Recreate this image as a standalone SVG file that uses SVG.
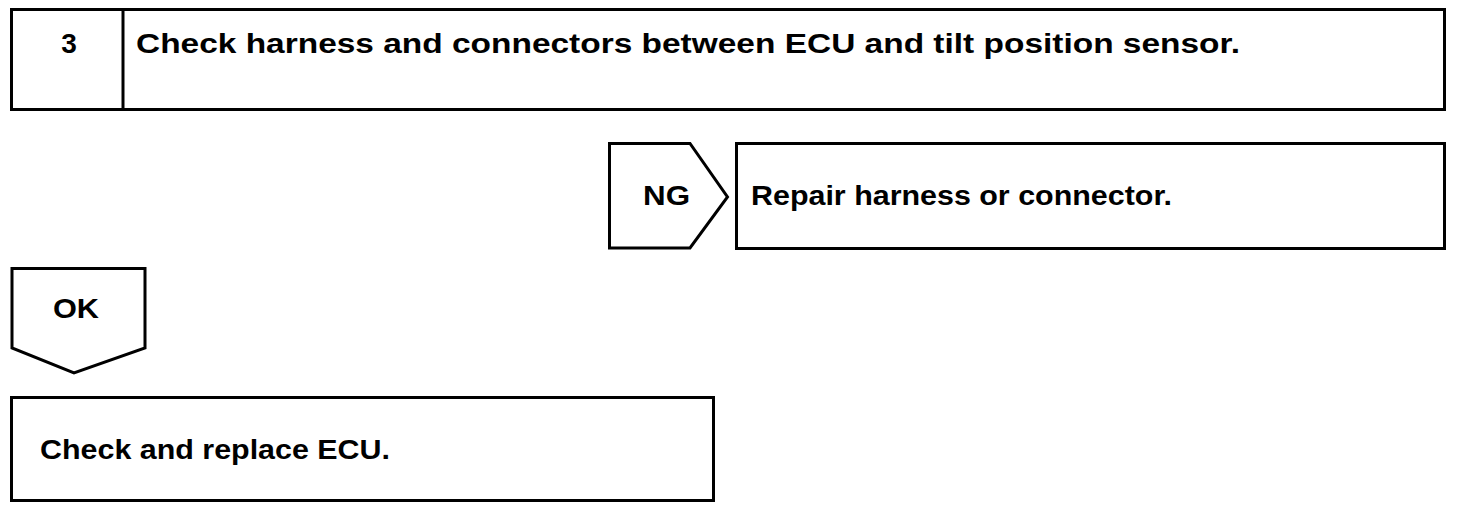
<svg xmlns="http://www.w3.org/2000/svg" width="1472" height="510" viewBox="0 0 1472 510">
<style>
.box{fill:#fff;stroke:#000;stroke-width:3;stroke-linejoin:miter}
.t{font-family:"Liberation Sans",Arial,sans-serif;font-weight:bold;font-size:28px;fill:#000}
</style>
<rect width="1472" height="510" fill="#fff"/>
<g id="step3">
<rect class="box" x="11.5" y="9.5" width="1433" height="100"/>
<line x1="123" y1="9.5" x2="123" y2="109.5" stroke="#000" stroke-width="3"/>
<text class="t" x="69" y="53" text-anchor="middle">3</text>
<text class="t" x="136" y="53" textLength="1104" lengthAdjust="spacingAndGlyphs">Check harness and connectors between ECU and tilt position sensor.</text>
</g>
<g id="ng">
<path class="box" d="M609.5,143.5 H690 L727.5,197 L690,248 H609.5 Z"/>
<text class="t" x="643" y="205" textLength="47" lengthAdjust="spacingAndGlyphs">NG</text>
</g>
<g id="repair">
<rect class="box" x="736.5" y="143.5" width="708" height="105"/>
<text class="t" x="751" y="205" textLength="421" lengthAdjust="spacingAndGlyphs">Repair harness or connector.</text>
</g>
<g id="ok">
<path class="box" d="M12,268.5 H145 V348 L74,373 L12,348 Z"/>
<text class="t" x="53" y="318" textLength="46" lengthAdjust="spacingAndGlyphs">OK</text>
</g>
<g id="replace">
<rect class="box" x="11.5" y="397.5" width="702" height="103"/>
<text class="t" x="40" y="459" textLength="350" lengthAdjust="spacingAndGlyphs">Check and replace ECU.</text>
</g>
<g id="connectors"></g>
</svg>
